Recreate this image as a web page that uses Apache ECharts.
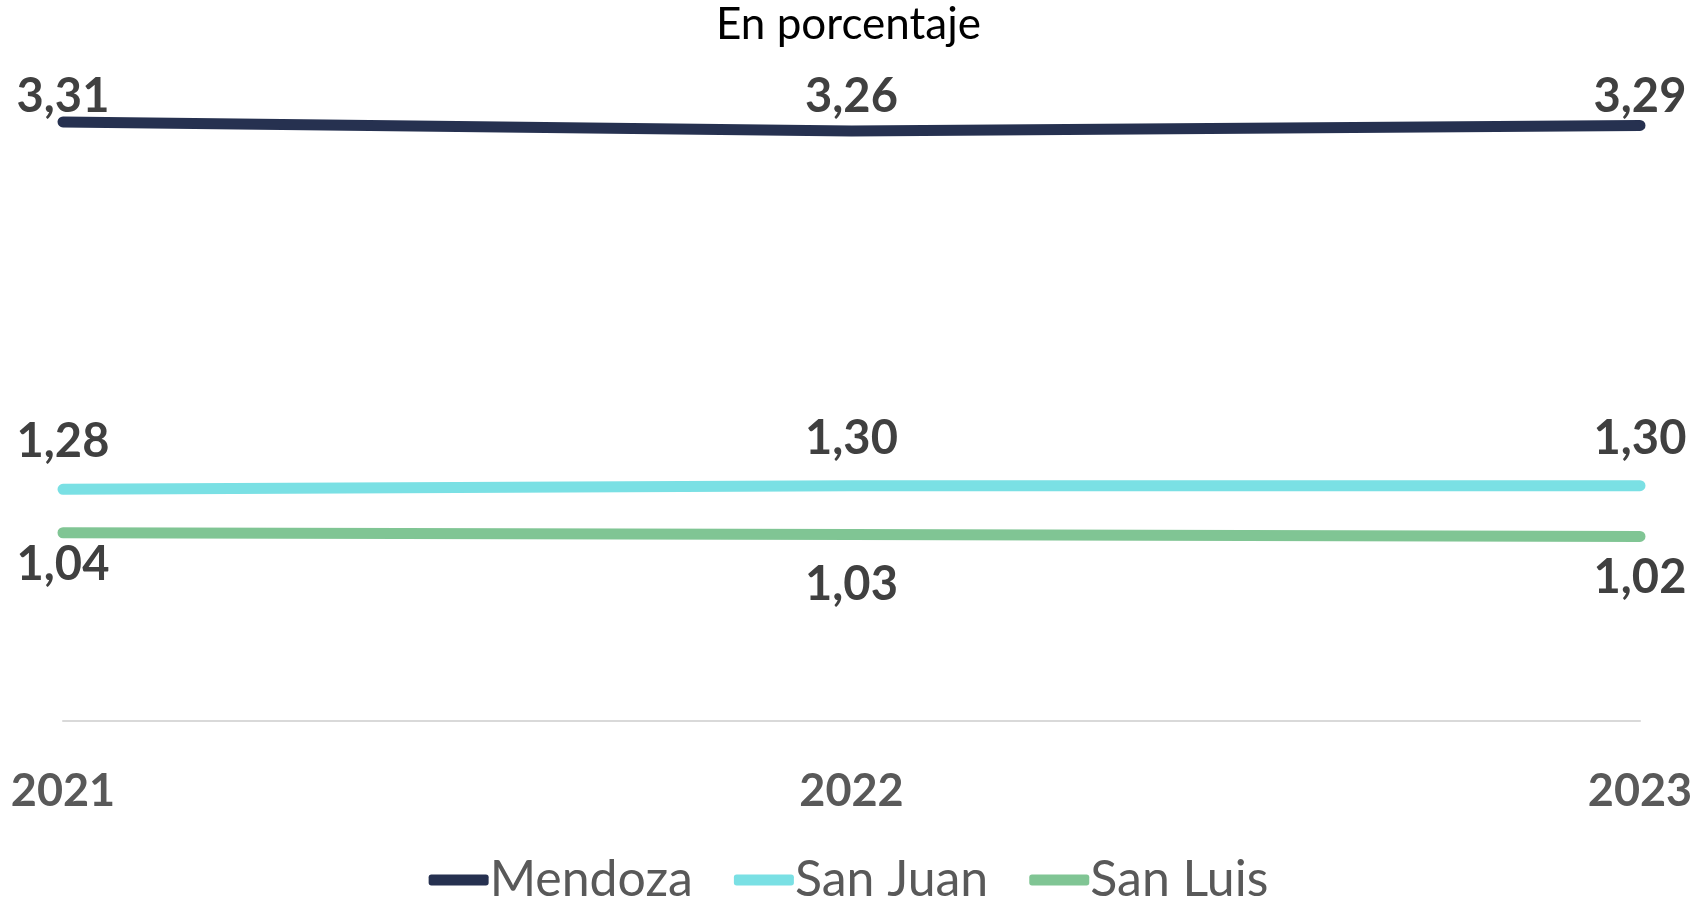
<!DOCTYPE html>
<html>
<head>
<meta charset="utf-8">
<script src="https://cdn.jsdelivr.net/npm/echarts@6/dist/echarts.min.js"></script>
<style>
  html, body { margin: 0; padding: 0; background: #fff; }
  #chart { width: 1697px; height: 899px; }
</style>
</head>
<body>
<div id="chart"></div>
<script>
const years = ["2021", "2022", "2023"];
const mendoza = [3.31, 3.26, 3.29];
const sanJuan = [1.28, 1.30, 1.30];
const sanLuis = [1.04, 1.03, 1.02];

const FONT = "Lato";
const fmt = (p) => p.value.toFixed(2).replace(".", ",");

const chart = echarts.init(document.getElementById("chart"));

// label nudges (labels in the original sit at uneven distances from the line)
const mendozaLabelDist = [1, 10, 5];
const sanLuisLabelDist = [8, 26, 17];

const labelBase = {
  show: true,
  formatter: fmt,
  fontFamily: FONT,
  fontWeight: "bold",
  fontSize: 47,
  color: "#404040"
};

const withDist = (values, dists) =>
  values.map((v, i) => ({ value: v, label: { distance: dists[i] } }));

const lineSeries = (name, data, color) => ({
  name: name,
  type: "line",
  data: data,
  symbol: "circle",
  symbolSize: 1,
  showSymbol: true,
  lineStyle: { width: 11, color: color, cap: "round", join: "round" },
  itemStyle: { color: color },
  emphasis: { disabled: true }
});

const option = {
  animation: false,
  backgroundColor: "#fff",
  title: {
    text: "En porcentaje",
    left: "center",
    top: -2,
    textStyle: {
      fontFamily: FONT,
      fontWeight: "normal",
      fontSize: 44,
      color: "#000"
    }
  },
  grid: {
    left: 63,
    right: 57,
    top: 87.5,
    bottom: 178
  },
  xAxis: {
    type: "category",
    data: years,
    boundaryGap: false,
    axisLine: { lineStyle: { color: "#d9d9d9", width: 2 } },
    axisTick: { show: false },
    axisLabel: {
      margin: 48,
      fontFamily: FONT,
      fontWeight: "bold",
      fontSize: 45,
      color: "#595959"
    }
  },
  yAxis: {
    type: "value",
    min: 0,
    max: 3.5,
    show: false,
    splitLine: { show: false }
  },
  legend: {
    bottom: -11,
    left: "center",
    itemWidth: 60,
    itemHeight: 11,
    itemGap: 41,
    icon: "roundRect",
    textStyle: {
      fontFamily: FONT,
      fontSize: 50,
      color: "#595959",
      padding: [0, 0, 0, -4]
    },
    data: ["Mendoza", "San Juan", "San Luis"]
  },
  series: [
    Object.assign(lineSeries("Mendoza", withDist(mendoza, mendozaLabelDist), "#263150"), {
      label: Object.assign({}, labelBase, { position: "top" })
    }),
    Object.assign(lineSeries("San Juan", sanJuan, "#7ae0e4"), {
      label: Object.assign({}, labelBase, { position: "top", distance: 23 })
    }),
    Object.assign(lineSeries("San Luis", withDist(sanLuis, sanLuisLabelDist), "#80c594"), {
      label: Object.assign({}, labelBase, { position: "bottom" })
    })
  ]
};

chart.setOption(option);
</script>
</body>
</html>
